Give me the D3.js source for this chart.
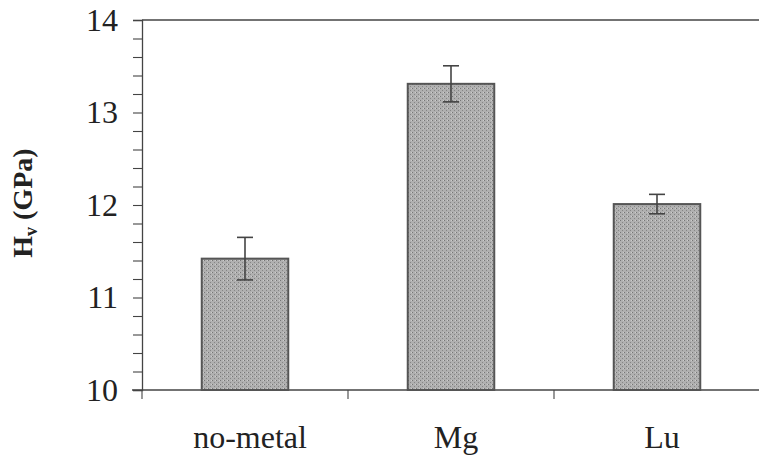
<!DOCTYPE html>
<html><head><meta charset="utf-8">
<script src="https://cdn.jsdelivr.net/npm/d3@7"></script>
<style>body{margin:0;background:#fff}</style>
</head><body>
<script>
const categories = ["no-metal", "Mg", "Lu"];
const values = [11.42, 13.31, 12.01];
const errors = [0.23, 0.195, 0.105];
const yTicks = [10, 11, 12, 13, 14];

const W = 759, H = 462;
const m = {left: 142, right: -1, top: 20, bottom: 72};
const FONT = '"Liberation Serif"';
const svg = d3.select("body").append("svg").attr("width", W).attr("height", H)
  .style("font-family", FONT);

const defs = svg.append("defs");
const pat = defs.append("pattern").attr("id","stip").attr("width",4).attr("height",4).attr("patternUnits","userSpaceOnUse");
pat.append("rect").attr("width",4).attr("height",4).attr("fill","#b0b0b0");
pat.append("rect").attr("x",0).attr("y",0).attr("width",1).attr("height",1).attr("fill","#767676");
pat.append("rect").attr("x",2).attr("y",2).attr("width",1).attr("height",1).attr("fill","#868686");
pat.append("rect").attr("x",3).attr("y",0).attr("width",1).attr("height",1).attr("fill","#cccccc");

const x = d3.scaleBand().domain(categories).range([m.left, W - m.right]).paddingInner(0.58).paddingOuter(0.29);
const xb = d3.scaleBand().domain(categories).range([m.left, W - m.right]);
const y = d3.scaleLinear().domain([10, 14]).range([H - m.bottom, m.top]);

// top border
svg.append("line").attr("x1", m.left).attr("x2", W).attr("y1", y(14)).attr("y2", y(14)).attr("stroke","#444").attr("stroke-width",1.3);

// y axis
const yAxis = d3.axisLeft(y).tickValues(d3.range(10, 14.001, 0.2)).tickSize(9)
  .tickFormat(d => Math.abs(d - Math.round(d)) < 1e-6 && yTicks.includes(Math.round(d)) ? d3.format("d")(Math.round(d)) : "");
const ya = svg.append("g").attr("transform", `translate(${m.left},0)`).call(yAxis);
ya.attr("font-family", "Liberation Serif").attr("font-size", 32);
ya.select(".domain").attr("stroke","#444").attr("stroke-width",1.3);
ya.selectAll(".tick line").attr("stroke","#444").attr("stroke-width",1.1);
ya.selectAll(".tick text").attr("x",-24).attr("font-family", "Liberation Serif").style("font-family", FONT).style("font-size","32px").attr("fill","#222");

// x axis
const xa = svg.append("g").attr("transform", `translate(0,${y(10)})`);
xa.append("line").attr("x1", m.left-10).attr("x2", W).attr("stroke","#444").attr("stroke-width",1.3);
xa.selectAll("line.tk").data(categories.slice(1)).enter().append("line").attr("class","tk")
  .attr("x1", d => xb(d)).attr("x2", d => xb(d)).attr("y1", 0).attr("y2", 9).attr("stroke","#444").attr("stroke-width",1.1);
xa.append("line").attr("x1", m.left).attr("x2", m.left).attr("y1", 0).attr("y2", 9).attr("stroke","#444").attr("stroke-width",1.1);
xa.selectAll("text").data(categories).enter().append("text")
  .attr("x", d => xb(d) + xb.bandwidth()/2 + 5).attr("y", 58).attr("text-anchor","middle")
  .attr("font-family", "Liberation Serif").style("font-family", FONT).style("font-size","32px").attr("fill","#222").text(d => d);

// bars
svg.selectAll("rect.bar").data(categories).enter().append("rect").attr("class","bar")
  .attr("x", d => x(d)).attr("width", x.bandwidth())
  .attr("y", (d,i) => y(values[i])).attr("height", (d,i) => y(10) - y(values[i]))
  .attr("fill","url(#stip)").attr("stroke","#555").attr("stroke-width",2);

// error bars
const eb = svg.selectAll("g.err").data(categories).enter().append("g").attr("class","err");
const cx = d => x(d)+x.bandwidth()/2;
eb.append("line").attr("x1", cx).attr("x2", cx)
  .attr("y1",(d,i)=>y(values[i]+errors[i])).attr("y2",(d,i)=>y(values[i]-errors[i])).attr("stroke","#444").attr("stroke-width",1.6);
eb.append("line").attr("x1", d => cx(d)-8).attr("x2", d => cx(d)+8)
  .attr("y1",(d,i)=>y(values[i]+errors[i])).attr("y2",(d,i)=>y(values[i]+errors[i])).attr("stroke","#444").attr("stroke-width",1.6);
eb.append("line").attr("x1", d => cx(d)-8).attr("x2", d => cx(d)+8)
  .attr("y1",(d,i)=>y(values[i]-errors[i])).attr("y2",(d,i)=>y(values[i]-errors[i])).attr("stroke","#444").attr("stroke-width",1.6);

// y title
const t = svg.append("text").attr("transform", `translate(32,${(y(10)+y(14))/2 - 2}) rotate(-90)`)
  .attr("text-anchor","middle").attr("font-family", "Liberation Serif").style("font-family", FONT)
  .style("font-weight","bold").style("font-size","28px").attr("fill","#222");
t.append("tspan").text("H");
t.append("tspan").style("font-size","18px").attr("dy",5).text("v");
t.append("tspan").attr("dy",-5).text(" (GPa)");
</script>
</body></html>
